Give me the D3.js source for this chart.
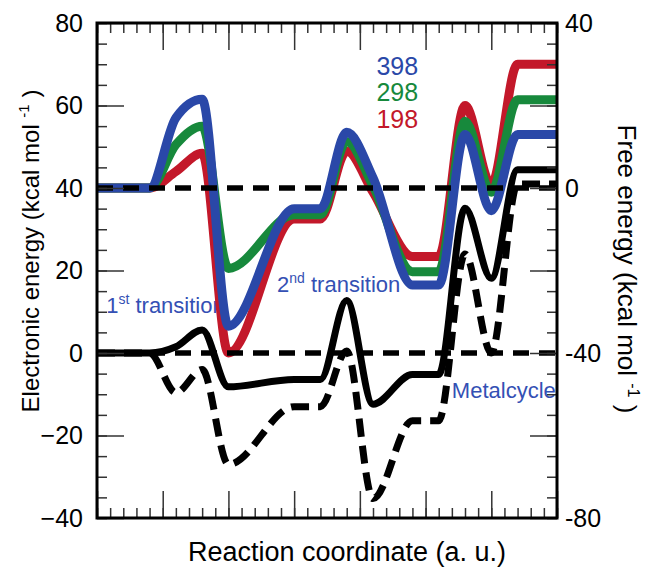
<!DOCTYPE html>
<html>
<head>
<meta charset="utf-8">
<script src="https://cdn.jsdelivr.net/npm/d3@7"></script>
<style>
  body { margin: 0; background: #fff; }
  text { font-family: "Liberation Sans", Arial, sans-serif; }
</style>
</head>
<body>
<div id="chart"></div>
<script>
const width = 645,
    height = 567,
    margin = { top: 23, right: 88, bottom: 49, left: 97 };

// Reaction coordinate of every stationary point (a. u.)
const coord = [0, 0.8, 1.2, 1.6, 2.0, 3.0, 3.4, 3.8, 4.2, 4.8, 5.2, 5.6, 6.0, 6.4, 7.0];

// Free energies at three temperatures (right axis, kcal/mol)
const free398 = [0, 0, 17, 21.5, -33.5, -5, -5, 13.5, 2.5, -23.5, -23.5, 13, -5.5, 13, 13];
const free298 = [0, 0, 10.5, 15, -19.5, -6.5, -6.5, 11.3, 0.5, -20.3, -20.3, 16.2, -1, 21.4, 21.4];
const free198 = [0, 0, 4, 8.4, -40, -7.5, -7.5, 8.9, -1, -16.6, -16.6, 20, 0.8, 30, 30];

// Electronic energies (left axis, kcal/mol)
const elecSolid = [0, 0, 1.5, 5.6, -8.2, -6.4, -6.4, 12.7, -12.4, -5.2, -5.2, 35.1, 18.1, 44.4, 44.4];
const elecDashed = [0, 0, -9.6, -4, -27, -13, -13, 0.5, -35.3, -16.4, -16.4, 24, 0, 41, 41];

// Reference lines (left axis)
const refLevels = [40, 0];

const leftTicks = [-40, -20, 0, 20, 40, 60, 80];
const rightTicks = [-80, -60, -40, -20, 0, 20, 40];
const xTicks = [0, 1, 2, 3, 4, 5, 6, 7];

const tempLabels = ["398", "298", "198"];
const tempColors = ["#2a48a8", "#17893c", "#c3182a"];

const svg = d3.select("#chart")
    .append("svg")
    .attr("width", width)
    .attr("height", height);

const x = d3.scaleLinear()
    .domain([0, 7])
    .range([margin.left, width - margin.right]);

const yL = d3.scaleLinear()
    .domain([-40, 80])
    .range([height - margin.bottom, margin.top]);

const yR = d3.scaleLinear()
    .domain([-80, 40])
    .range([height - margin.bottom, margin.top]);

const x0 = x.range()[0], x1 = x.range()[1],
    yB = yL.range()[0], yT = yL.range()[1];

// minor tick values
const xMinor = d3.range(0, 7.001, 0.2).map(v => +v.toFixed(1));
const yLMinor = d3.range(-40, 80.001, 5);
const yRMinor = d3.range(-80, 40.001, 5);

// ---- annotation texts (drawn under the curves) ----
const note = svg.append("g").attr("fill", "#3450b4").style("font-size", "22px");

const n1 = note.append("text").attr("x", x(0.14)).attr("y", yL(9.7));
n1.append("tspan").text("1");
n1.append("tspan").attr("font-size", "14px").attr("dy", -9).text("st");
n1.append("tspan").attr("dy", 9).text(" transition");

const n2 = note.append("text").attr("x", x(2.74)).attr("y", yL(14.9));
n2.append("tspan").text("2");
n2.append("tspan").attr("font-size", "14px").attr("dy", -9).text("nd");
n2.append("tspan").attr("dy", 9).text(" transition");

note.append("text")
    .attr("x", x(5.4))
    .attr("y", yL(-11))
    .text("Metalcycle");

// temperature legend
svg.append("g")
    .selectAll("text")
    .data(tempLabels)
    .join("text")
    .attr("x", x(4.57))
    .attr("y", (d, i) => yL(67.5) + i * 26.5)
    .attr("text-anchor", "middle")
    .attr("fill", (d, i) => tempColors[i])
    .style("font-size", "25px")
    .text(d => d);

// ---- curves ----
const lineL = d3.line()
    .x((d, i) => x(coord[i]))
    .y(d => yL(d))
    .curve(d3.curveMonotoneX);

const lineR = d3.line()
    .x((d, i) => x(coord[i]))
    .y(d => yR(d))
    .curve(d3.curveMonotoneX);

svg.append("path")
    .attr("d", lineL(elecDashed))
    .attr("fill", "none")
    .attr("stroke", "#000")
    .attr("stroke-width", 7)
    .attr("stroke-dasharray", "18,9");

const freeSeries = [free198, free298, free398];
const freeColors = [tempColors[2], tempColors[1], tempColors[0]];

svg.append("g")
    .selectAll("path")
    .data(freeSeries)
    .join("path")
    .attr("d", d => lineR(d))
    .attr("fill", "none")
    .attr("stroke", (d, i) => freeColors[i])
    .attr("stroke-width", 9)
    .attr("stroke-linejoin", "round");

svg.append("path")
    .attr("d", lineL(elecSolid))
    .attr("fill", "none")
    .attr("stroke", "#000")
    .attr("stroke-width", 7)
    .attr("stroke-linejoin", "round");

// dashed reference levels
svg.append("g")
    .selectAll("line")
    .data(refLevels)
    .join("line")
    .attr("x1", x0)
    .attr("x2", x1)
    .attr("y1", d => yL(d))
    .attr("y2", d => yL(d))
    .attr("stroke", "#000")
    .attr("stroke-width", 5.5)
    .attr("stroke-dasharray", "16,10");

// ---- axes (ticks point inside) ----
function styleAxis(g) {
    g.select(".domain").remove();
    g.selectAll(".tick line").attr("stroke", "#333").attr("stroke-width", 1.5);
    g.selectAll(".tick text").attr("fill", "#000").style("font-size", "25px")
        .style("font-family", "'Liberation Sans', Arial, sans-serif");
}

const blank = () => "";

svg.append("g").attr("transform", `translate(0,${yB})`)
    .call(d3.axisBottom(x).tickValues(xMinor).tickSize(-10).tickFormat(blank)).call(styleAxis);
svg.append("g").attr("transform", `translate(0,${yB})`)
    .call(d3.axisBottom(x).tickValues(xTicks).tickSize(-27).tickFormat(blank)).call(styleAxis);
svg.append("g").attr("transform", `translate(0,${yT})`)
    .call(d3.axisTop(x).tickValues(xMinor).tickSize(-10).tickFormat(blank)).call(styleAxis);
svg.append("g").attr("transform", `translate(0,${yT})`)
    .call(d3.axisTop(x).tickValues(xTicks).tickSize(-27).tickFormat(blank)).call(styleAxis);

svg.append("g").attr("transform", `translate(${x0},0)`)
    .call(d3.axisLeft(yL).tickValues(yLMinor).tickSize(-10).tickFormat(blank)).call(styleAxis);
svg.append("g").attr("transform", `translate(${x0},0)`)
    .call(d3.axisLeft(yL).tickValues(leftTicks).tickSize(-27).tickPadding(14)).call(styleAxis);

svg.append("g").attr("transform", `translate(${x1},0)`)
    .call(d3.axisRight(yR).tickValues(yRMinor).tickSize(-10).tickFormat(blank)).call(styleAxis);
svg.append("g").attr("transform", `translate(${x1},0)`)
    .call(d3.axisRight(yR).tickValues(rightTicks).tickSize(-27).tickPadding(8)
        .tickFormat(d => d % 40 === 0 ? d : "")).call(styleAxis);

// frame
svg.append("rect")
    .attr("x", x0)
    .attr("y", yT)
    .attr("width", x1 - x0)
    .attr("height", yB - yT)
    .attr("fill", "none")
    .attr("stroke", "#000")
    .attr("stroke-width", 3);

// ---- axis titles ----
svg.append("text")
    .attr("x", 347)
    .attr("y", 561)
    .attr("text-anchor", "middle")
    .style("font-size", "27px")
    .text("Reaction coordinate (a. u.)");

const tl = svg.append("text")
    .attr("transform", `translate(39,251) rotate(-90)`)
    .attr("text-anchor", "middle")
    .style("font-size", "24px");
tl.append("tspan").text("Electronic energy (kcal mol ");
tl.append("tspan").attr("font-size", "15px").attr("dy", -10).text("-1");
tl.append("tspan").attr("dy", 10).text(" )");

const tr = svg.append("text")
    .attr("transform", `translate(618,269) rotate(90)`)
    .attr("text-anchor", "middle")
    .style("font-size", "26px");
tr.append("tspan").text("Free energy (kcal mol ");
tr.append("tspan").attr("font-size", "16px").attr("dy", -10).text("-1");
tr.append("tspan").attr("dy", 10).text(" )");
</script>
</body>
</html>
